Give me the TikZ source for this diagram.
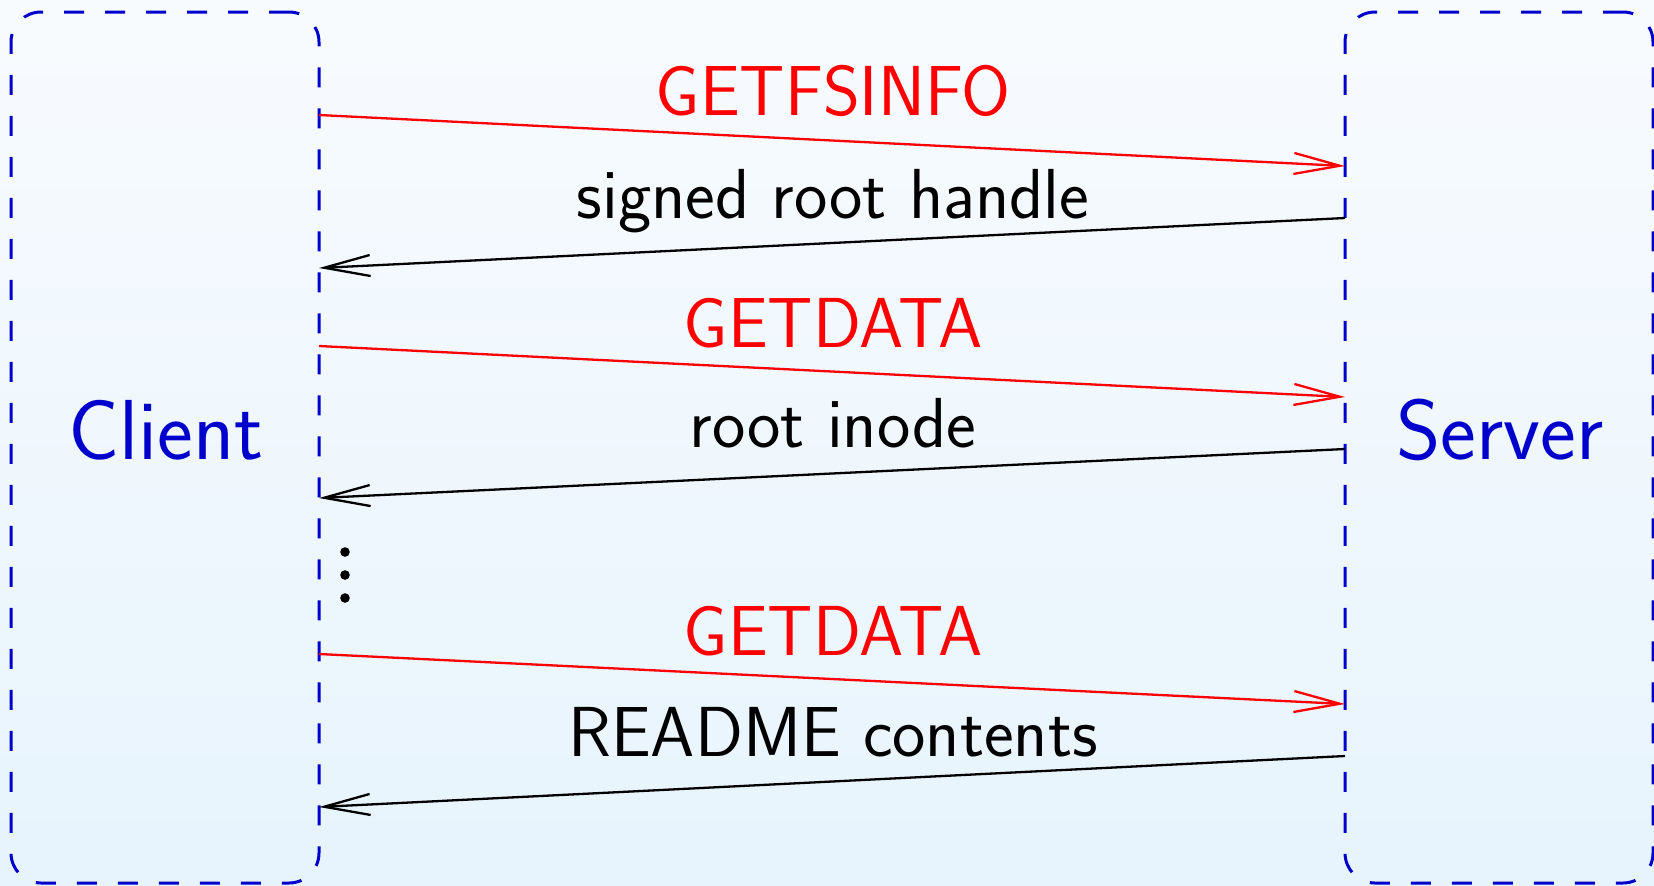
\documentclass[tikz,border=0pt]{standalone}
\usepackage{fontspec}
\usetikzlibrary{arrows.meta,calc}
\definecolor{bgtop}{RGB}{248,251,254}
\definecolor{bgbot}{RGB}{231,244,253}
\definecolor{peer}{RGB}{0,0,204}
\begin{document}
\begin{tikzpicture}[x=0.5pt,y=-0.5pt,
  peerbox/.style={draw=peer, line width=1.5pt, dash pattern=on 10pt off 10.5pt,
    rounded corners=15pt, minimum width=154pt, minimum height=435.5pt,
    inner sep=0pt, outer sep=0pt},
  peerlabel/.style={text=peer, font=\sffamily\fontsize{42.6}{48}\selectfont,
    anchor=base, inner sep=0pt},
  msg/.style={line width=1.15pt, -{Straight Barb[length=23pt,width=10.5pt]}},
  req/.style={msg, red},
  rep/.style={msg, black},
  msglabel/.style={font=\sffamily\fontsize{35.4}{40}\selectfont,
    anchor=base, inner sep=0pt}]

% page and background
\useasboundingbox (0,0) rectangle (1654,885);
\shade[top color=bgtop, bottom color=bgbot] (0,0) rectangle (1654,885);

% the two peers
\node[peerbox] (client) at (165,447.5) {};
\node[peerbox] (server) at (1499,447.5) {};
\node[peerlabel] (clientname) at (166,459) {Client};
\node[peerlabel] (servername) at (1500,459) {Server};

% message end points on the box edges
\coordinate (c1) at ($(client.north east)+(0,103)$);
\coordinate (s1) at ($(server.north west)+(0,154)$);
\coordinate (s2) at ($(server.north west)+(0,206)$);
\coordinate (c2) at ($(client.north east)+(0,256)$);
\coordinate (c3) at ($(client.north east)+(0,334)$);
\coordinate (s3) at ($(server.north west)+(0,385)$);
\coordinate (s4) at ($(server.north west)+(0,437)$);
\coordinate (c4) at ($(client.north east)+(0,486)$);
\coordinate (c5) at ($(client.north east)+(0,642)$);
\coordinate (s5) at ($(server.north west)+(0,692)$);
\coordinate (s6) at ($(server.north west)+(0,744)$);
\coordinate (c6) at ($(client.north east)+(0,795)$);

% messages
\draw[req] (c1) -- (s1);
\draw[rep] (s2) -- (c2);
\draw[req] (c3) -- (s3);
\draw[rep] (s4) -- (c4);
\draw[req] (c5) -- (s5);
\draw[rep] (s6) -- (c6);

% message labels
\node[msglabel, text=red] (l1) at (833,115) {GETFSINFO};
\node[msglabel] (l2) at (833,218) {signed root handle};
\node[msglabel, text=red] (l3) at (833,347) {GETDATA};
\node[msglabel] (l4) at (833,447) {root inode};
\node[msglabel, text=red] (l5) at (833,655) {GETDATA};
\node[msglabel] (l6) at (833,756) {README contents};

% ellipsis between the exchanges
\fill (345,552) circle (2.4pt);
\fill (345,575) circle (2.4pt);
\fill (345,598) circle (2.4pt);
\end{tikzpicture}
\end{document}
